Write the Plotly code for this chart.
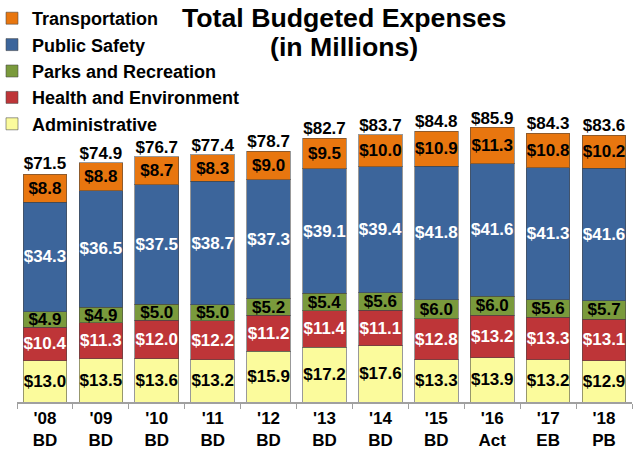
import plotly.graph_objects as go

categories = ["'08<br>BD", "'09<br>BD", "'10<br>BD", "'11<br>BD", "'12<br>BD", "'13<br>BD",
              "'14<br>BD", "'15<br>BD", "'16<br>Act", "'17<br>EB", "'18<br>PB"]
administrative = [13.0, 13.5, 13.6, 13.2, 15.9, 17.2, 17.6, 13.3, 13.9, 13.2, 12.9]
health_env = [10.4, 11.3, 12.0, 12.2, 11.2, 11.4, 11.1, 12.8, 13.2, 13.3, 13.1]
parks_rec = [4.9, 4.9, 5.0, 5.0, 5.2, 5.4, 5.6, 6.0, 6.0, 5.6, 5.7]
public_safety = [34.3, 36.5, 37.5, 38.7, 37.3, 39.1, 39.4, 41.8, 41.6, 41.3, 41.6]
transportation = [8.8, 8.8, 8.7, 8.3, 9.0, 9.5, 10.0, 10.9, 11.3, 10.8, 10.2]
totals = [71.5, 74.9, 76.7, 77.4, 78.7, 82.7, 83.7, 84.8, 85.9, 84.3, 83.6]

series = [
    ("Administrative", administrative, "#FBFB9C", "black"),
    ("Health and Environment", health_env, "#BE3538", "white"),
    ("Parks and Recreation", parks_rec, "#7A9A3C", "black"),
    ("Public Safety", public_safety, "#3C659B", "white"),
    ("Transportation", transportation, "#E8760F", "black"),
]

FONT = "Liberation Sans, Arial, sans-serif"
L, T, PW, PH = 17, 100, 615, 302

fig = go.Figure()
for name, vals, color, tcolor in series:
    fig.add_trace(go.Bar(
        name="<b>" + name + "</b>", x=categories, y=vals,
        marker=dict(color=color, line=dict(color="rgba(70,70,70,0.55)", width=1)),
        width=0.78,
        texttemplate="<b>$%{y:.1f}</b>", textposition="inside",
        insidetextanchor="middle", textangle=0,
        textfont=dict(family=FONT, size=17, color=tcolor),
        legendgroup=name,
    ))

fig.add_trace(go.Scatter(
    x=categories, y=totals, mode="text",
    texttemplate="<b>$%{y:.1f}</b>", textposition="top center",
    textfont=dict(family=FONT, size=17, color="black"),
    showlegend=False, hoverinfo="skip", cliponaxis=False,
))

fig.update_layout(
    width=637, height=455,
    barmode="stack",
    plot_bgcolor="white", paper_bgcolor="white",
    margin=dict(l=L, r=5, t=T, b=53, autoexpand=False),
    uniformtext=dict(minsize=17, mode="show"),
    font=dict(family=FONT, color="black"),
    legend=dict(
        x=(-8 - L) / PW, y=1 + (T - 0) / PH, xanchor="left", yanchor="top",
        traceorder="reversed", tracegroupgap=1.5,
        font=dict(family=FONT, size=18, color="black"),
        bgcolor="rgba(0,0,0,0)",
    ),
    showlegend=True,
)
fig.update_xaxes(
    tickfont=dict(family=FONT, size=17, color="black"),
    tickprefix="<b>", ticksuffix="</b>",
    showline=True, linecolor="#A0A0A0", linewidth=1.5,
    ticks="outside", tickson="boundaries", tickcolor="#A0A0A0", ticklen=5,
    showgrid=False, range=[-0.5, 10.5],
)
fig.update_yaxes(visible=False, range=[0, 94.6], showgrid=False)

fig.add_annotation(text="<b>Total Budgeted Expenses</b>", xref="paper", yref="paper",
                   x=(344 - L) / PW, y=1 + (T - 18) / PH, showarrow=False,
                   font=dict(family=FONT, size=26.7, color="black"), xanchor="center", yanchor="middle")
fig.add_annotation(text="<b>(in Millions)</b>", xref="paper", yref="paper",
                   x=(344 - L) / PW, y=1 + (T - 47) / PH, showarrow=False,
                   font=dict(family=FONT, size=26.7, color="black"), xanchor="center", yanchor="middle")

fig.write_html("out.html", config={"displayModeBar": False},
               post_script="document.body.style.margin='0';document.body.style.overflow='hidden';")
